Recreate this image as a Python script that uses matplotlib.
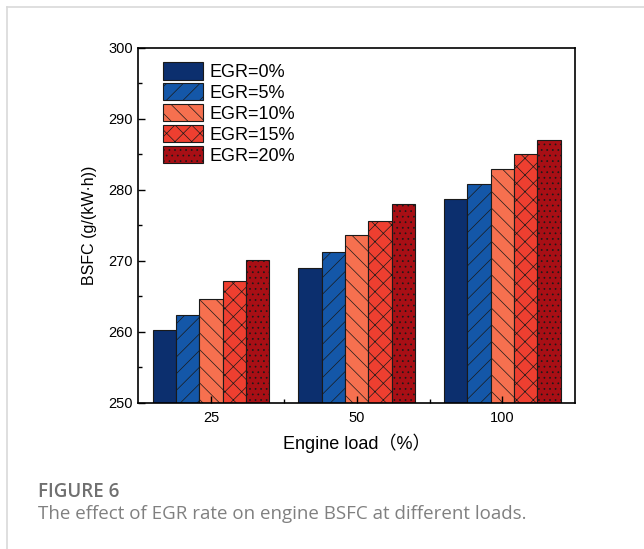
import numpy as np
import matplotlib
matplotlib.use('Agg')
import matplotlib.pyplot as plt
from matplotlib.lines import Line2D
from matplotlib.ticker import MultipleLocator, FixedLocator

# dados
cargas = ['25', '50', '100']
series = ['EGR=0%', 'EGR=5%', 'EGR=10%', 'EGR=15%', 'EGR=20%']
egr0 = [260.3, 269.0, 278.7]
egr5 = [262.4, 271.3, 280.8]
egr10 = [264.6, 273.7, 282.9]
egr15 = [267.2, 275.6, 285.0]
egr20 = [270.1, 278.0, 287.1]
valores = [egr0, egr5, egr10, egr15, egr20]

cores = ['#0c2f6e', '#1457a8', '#f6704f', '#ee3f30', '#a80f15']
hachuras = ['', '//', '\\\\', 'xx', '...']

plt.rcParams['font.family'] = ['Liberation Sans', 'Noto Sans CJK SC']
plt.rcParams['hatch.linewidth'] = 0.5

fig = plt.figure(figsize=(6.44, 5.49), dpi=100)
ax = fig.add_axes([0.2143, 0.266, 0.679, 0.6466])

x = np.arange(len(cargas))
largura = 0.16
for i in range(len(series)):
    pos = x + (i - 2) * largura
    ax.bar(pos, valores[i], largura, bottom=0, color=cores[i], edgecolor='#1a1a1a',
           linewidth=0.8, hatch=hachuras[i], label=series[i])

ax.set_ylim(250, 300)
ax.set_xlim(-0.5, 2.5)
ax.yaxis.set_major_locator(MultipleLocator(10))
ax.yaxis.set_minor_locator(MultipleLocator(5))
ax.set_xticks(x)
ax.set_xticklabels(cargas)
ax.xaxis.set_minor_locator(FixedLocator([0.5, 1.5]))
ax.tick_params(direction='in', length=5, width=1, labelsize=10.5)
ax.tick_params(which='minor', direction='in', length=3, width=1)
ax.tick_params(axis='x', pad=6)
for s in ax.spines.values():
    s.set_linewidth(1.2)

ax.set_ylabel('BSFC (g/(kW·h))', fontsize=11.5, labelpad=8)
ax.set_xlabel('Engine load（%）', fontsize=13, labelpad=6)

ax.legend(loc='upper left', bbox_to_anchor=(0.057, 0.96), frameon=False, fontsize=13,
          handlelength=2.2, handleheight=1.1, labelspacing=0.12, handletextpad=0.4,
          borderaxespad=0, borderpad=0)

# moldura do cartão
fig.add_artist(Line2D([0.011, 1.0], [0.987, 0.987], color='#d9d9d9', lw=1.2))
fig.add_artist(Line2D([0.011, 0.011], [0.0, 0.987], color='#d9d9d9', lw=1.2))

fig.text(0.059, 0.095, 'FIGURE 6', fontsize=13.5, color='#707070', fontweight='semibold',
         family=['Open Sans', 'DejaVu Sans'])
fig.text(0.059, 0.055, 'The effect of EGR rate on engine BSFC at different loads.',
         fontsize=13.5, color='#808080', family=['Open Sans', 'DejaVu Sans'])

fig.savefig('out.png', dpi=100)
